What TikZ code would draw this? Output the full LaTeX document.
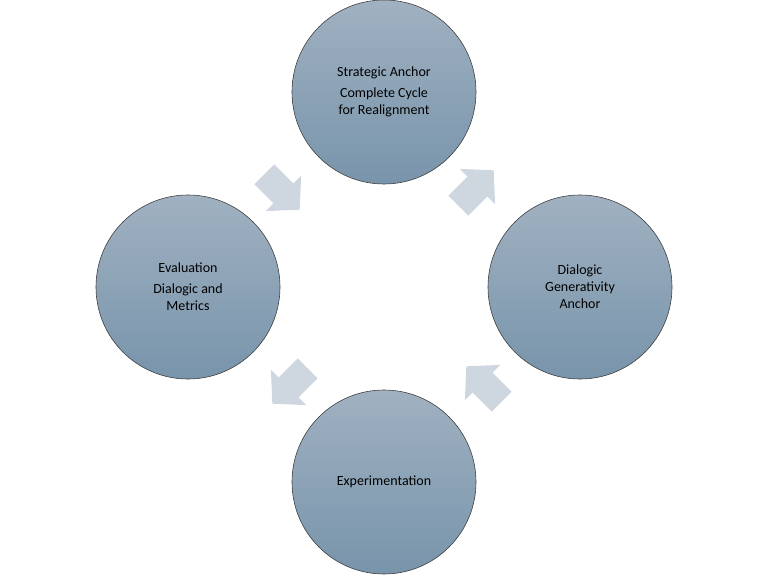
\documentclass[tikz,border=0pt]{standalone}
\usepackage{fontspec}
\setmainfont{Carlito}
\begin{document}
\begin{tikzpicture}[x=1pt,y=-1pt,
  stage/.style={circle,draw=black!75,line width=0.6pt,minimum size=184pt,inner sep=0pt,
    top color={rgb,255:red,160;green,177;blue,193},bottom color={rgb,255:red,120;green,148;blue,171},
    align=center,font=\fontsize{14}{17}\selectfont,text=black},
  flow/.style={fill={rgb,255:red,206;green,214;blue,223},draw=none}]
\useasboundingbox (0,0) rectangle (768,575);
\node[stage] (top) at (384,92) {Strategic Anchor\\[4pt]Complete Cycle\\for Realignment};
\node[stage] (right) at (580,287) {Dialogic\\Generativity\\Anchor};
\node[stage] (bottom) at (384,482) {Experimentation};
\node[stage] (left) at (188,287) {Evaluation\\[4pt]Dialogic and\\Metrics};
\def\blockarrow#1#2{\fill[flow,shift={#1},rotate=#2] (-25,-14) -- (2,-14) -- (2,-25) -- (25,0) -- (2,25) -- (2,14) -- (-25,14) -- cycle;}
\coordinate (a1) at (476,188); \blockarrow{(a1)}{45}
\coordinate (a2) at (484,384); \blockarrow{(a2)}{135}
\coordinate (a3) at (290,386); \blockarrow{(a3)}{-135}
\coordinate (a4) at (282,192); \blockarrow{(a4)}{-45}
\end{tikzpicture}
\end{document}
